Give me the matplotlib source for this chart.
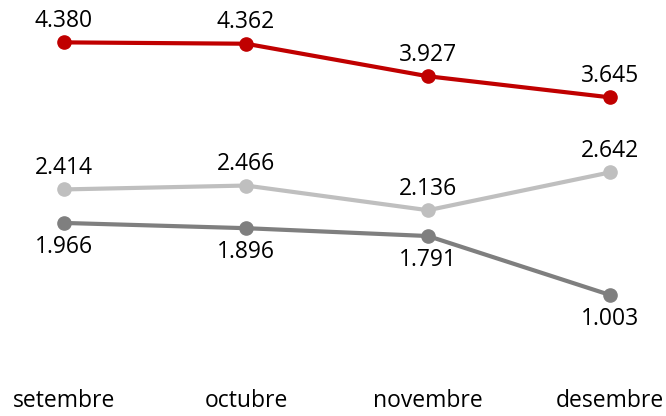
import matplotlib
matplotlib.use("Agg")
import matplotlib.pyplot as plt

months = ["setembre", "octubre", "novembre", "desembre"]
red_vals = [4.380, 4.362, 3.927, 3.645]
light_vals = [2.414, 2.466, 2.136, 2.642]
dark_vals = [1.966, 1.896, 1.791, 1.003]

plt.rcParams["font.family"] = ["Open Sans", "DejaVu Sans"]

fig = plt.figure(figsize=(6.66, 4.16), dpi=100)
ax = fig.add_axes([0, 46 / 416, 1, (370 - 33.4) / 416])

x = list(range(len(months)))
series = [
    (red_vals, "#C00000", 15.5),
    (light_vals, "#BFBFBF", 15.5),
    (dark_vals, "#7F7F7F", -17),
]
for vals, color, off in series:
    ax.plot(x, vals, color=color, lw=3, marker="o", ms=9.5, solid_capstyle="round")
    for xi, v in zip(x, vals):
        ax.annotate(f"{v:.3f}", (xi, v), xytext=(0, off), textcoords="offset points",
                    ha="center", va="center", fontsize=16.5, color="black")

ax.set_xlim(-64 / 182, 3 + 56 / 182)
ax.set_ylim(0, 4.5)
ax.set_xticks(x)
ax.set_xticklabels(months, fontsize=16.5)
ax.tick_params(axis="x", length=0, pad=14)
ax.set_yticks([])
for s in ax.spines.values():
    s.set_visible(False)

fig.savefig("out.png", dpi=100)
